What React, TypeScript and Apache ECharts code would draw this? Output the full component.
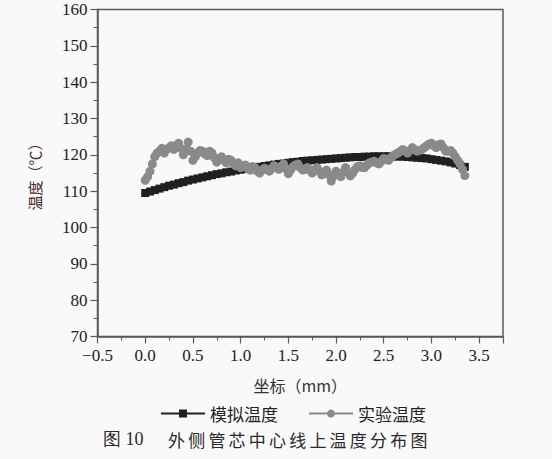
import React, { useEffect, useRef } from "react";
import * as echarts from "echarts";

const simX = [0, 0.05, 0.1, 0.15, 0.2, 0.25, 0.3, 0.35, 0.4, 0.45, 0.5, 0.55, 0.6, 0.65, 0.7, 0.75, 0.8, 0.85, 0.9, 0.95, 1.0, 1.05, 1.1, 1.15, 1.2, 1.25, 1.3, 1.35, 1.4, 1.45, 1.5, 1.55, 1.6, 1.65, 1.7, 1.75, 1.8, 1.85, 1.9, 1.95, 2.0, 2.05, 2.1, 2.15, 2.2, 2.25, 2.3, 2.35, 2.4, 2.45, 2.5, 2.55, 2.6, 2.65, 2.7, 2.75, 2.8, 2.85, 2.9, 2.95, 3.0, 3.05, 3.1, 3.15, 3.2, 3.25, 3.3, 3.35];
const simY = [109.5, 109.9, 110.3, 110.7, 111.1, 111.5, 111.8, 112.2, 112.5, 112.9, 113.2, 113.5, 113.8, 114.1, 114.4, 114.7, 114.9, 115.2, 115.4, 115.7, 115.9, 116.1, 116.3, 116.5, 116.7, 116.9, 117.1, 117.3, 117.5, 117.6, 117.8, 118.0, 118.1, 118.3, 118.4, 118.5, 118.6, 118.7, 118.8, 118.9, 119.0, 119.1, 119.2, 119.3, 119.4, 119.4, 119.5, 119.5, 119.6, 119.6, 119.6, 119.6, 119.6, 119.5, 119.5, 119.4, 119.3, 119.2, 119.1, 119.0, 118.8, 118.6, 118.4, 118.2, 117.9, 117.6, 117.2, 116.7];

const expX = [0, 0.025, 0.05, 0.075, 0.1, 0.125, 0.15, 0.175, 0.2, 0.225, 0.25, 0.275, 0.3, 0.325, 0.35, 0.375, 0.4, 0.425, 0.45, 0.475, 0.5, 0.525, 0.55, 0.575, 0.6, 0.625, 0.65, 0.675, 0.7, 0.725, 0.75, 0.775, 0.8, 0.825, 0.85, 0.875, 0.9, 0.925, 0.95, 0.975, 1.0, 1.025, 1.05, 1.075, 1.1, 1.125, 1.15, 1.175, 1.2, 1.225, 1.25, 1.275, 1.3, 1.325, 1.35, 1.375, 1.4, 1.425, 1.45, 1.475, 1.5, 1.525, 1.55, 1.575, 1.6, 1.625, 1.65, 1.675, 1.7, 1.725, 1.75, 1.775, 1.8, 1.825, 1.85, 1.875, 1.9, 1.925, 1.95, 1.975, 2.0, 2.025, 2.05, 2.075, 2.1, 2.125, 2.15, 2.175, 2.2, 2.225, 2.25, 2.275, 2.3, 2.325, 2.35, 2.375, 2.4, 2.425, 2.45, 2.475, 2.5, 2.525, 2.55, 2.575, 2.6, 2.625, 2.65, 2.675, 2.7, 2.725, 2.75, 2.775, 2.8, 2.825, 2.85, 2.875, 2.9, 2.925, 2.95, 2.975, 3.0, 3.025, 3.05, 3.075, 3.1, 3.125, 3.15, 3.175, 3.2, 3.225, 3.25, 3.275, 3.3, 3.325, 3.35];
const expY = [113.0, 114.0, 115.5, 117.5, 119.5, 120.5, 121.0, 121.8, 120.5, 121.5, 122.0, 122.5, 121.5, 122.5, 123.2, 121.8, 120.0, 121.5, 123.5, 121.0, 118.5, 119.5, 120.5, 121.2, 121.0, 120.2, 119.8, 121.0, 120.5, 119.2, 118.0, 119.0, 119.5, 118.5, 117.8, 118.8, 118.5, 117.5, 117.0, 117.8, 116.5, 116.8, 117.2, 116.2, 115.8, 116.8, 116.5, 115.5, 115.0, 115.8, 116.3, 116.0, 115.5, 116.2, 117.0, 116.5, 116.0, 116.8, 117.5, 116.2, 114.8, 115.8, 116.8, 117.2, 117.5, 116.5, 115.8, 116.0, 116.5, 115.8, 115.0, 115.8, 116.5, 115.5, 114.5, 115.2, 115.8, 114.5, 112.8, 114.2, 115.5, 114.8, 114.0, 115.2, 116.5, 115.2, 114.2, 115.0, 116.0, 116.8, 117.0, 116.5, 116.5, 117.2, 117.8, 118.0, 118.2, 117.8, 117.5, 118.2, 119.0, 118.8, 118.5, 119.2, 119.8, 120.2, 120.5, 121.0, 121.5, 121.0, 120.5, 121.2, 122.0, 121.5, 121.0, 121.2, 121.5, 122.0, 122.5, 123.0, 123.2, 122.5, 122.0, 122.8, 123.0, 122.0, 121.0, 121.0, 121.2, 120.5, 119.5, 118.5, 117.5, 116.0, 114.3];

const seriesNames = ["模拟温度", "实验温度"];
const xTitle = "坐标（mm）";
const yTitle = "温度（℃）";
const captionHead = "图 10";
const captionBody = "外侧管芯中心线上温度分布图";

const SERIF = "Liberation Serif";
const CJK = "Noto Sans CJK SC";

export default function App() {
  const ref = useRef<HTMLDivElement>(null);
  useEffect(() => {
    if (!ref.current) return;
    const chart = echarts.init(ref.current, null, { renderer: "svg" });
    const captionChars = captionBody.split("").map((ch, i) => ({
      type: "text",
      left: 168 + i * 20.2,
      top: 431,
      style: { text: ch, fill: "#2a2a2a", fontSize: 17, fontFamily: CJK },
    }));
    chart.setOption({
      animation: false,
      backgroundColor: "#f9f9f9",
      textStyle: { fontFamily: SERIF },
      grid: {
        left: 97.5,
        right: 49,
        top: 9.5,
        bottom: 122.5,
        show: true,
        borderColor: "#5a5a5a",
        borderWidth: 1.5,
        backgroundColor: "transparent",
      },
      xAxis: {
        type: "value",
        min: -0.5,
        max: 3.75,
        interval: 0.5,
        splitLine: { show: false },
        axisLine: { show: true, onZero: false, lineStyle: { color: "#5a5a5a", width: 1.5 } },
        axisTick: { show: true, inside: false, length: 7, lineStyle: { color: "#5a5a5a", width: 1.2 } },
        minorTick: { show: true, splitNumber: 2, length: 4, lineStyle: { color: "#5a5a5a", width: 1 } },
        axisLabel: {
          color: "#222",
          fontFamily: SERIF,
          fontSize: 17,
          margin: 10,
          formatter: (v: number) => {
            if (Math.abs(v * 2 - Math.round(v * 2)) > 1e-6) return "";
            if (v > 3.6) return "";
            return v < 0 ? "\u2212" + Math.abs(v).toFixed(1) : v.toFixed(1);
          },
        },
        name: xTitle,
        nameLocation: "middle",
        nameGap: 40,
        nameTextStyle: { color: "#333", fontFamily: CJK, fontSize: 16 },
      },
      yAxis: {
        type: "value",
        min: 70,
        max: 160,
        interval: 10,
        splitLine: { show: false },
        axisLine: { show: true, onZero: false, lineStyle: { color: "#5a5a5a", width: 1.5 } },
        axisTick: { show: true, inside: false, length: 7, lineStyle: { color: "#5a5a5a", width: 1.2 } },
        minorTick: { show: true, splitNumber: 2, length: 4, lineStyle: { color: "#5a5a5a", width: 1 } },
        axisLabel: { color: "#222", fontFamily: SERIF, fontSize: 17, margin: 10 },
        name: yTitle,
        nameLocation: "middle",
        nameGap: 56,
        nameRotate: 90,
        nameTextStyle: { color: "#4a2c2c", fontFamily: CJK, fontSize: 15 },
      },
      legend: {
        left: 155,
        top: 400,
        itemWidth: 44,
        itemHeight: 10,
        itemGap: 30,
        textStyle: { color: "#222", fontFamily: CJK, fontSize: 17 },
        data: seriesNames,
      },
      graphic: [
        {
          type: "text",
          left: 103,
          top: 430,
          style: { text: captionHead, fill: "#2a2a2a", fontSize: 18, fontFamily: SERIF },
        },
        ...captionChars,
      ],
      series: [
        {
          name: seriesNames[0],
          type: "line",
          data: simX.map((x, i) => [x, simY[i]]),
          symbol: "rect",
          symbolSize: 8,
          itemStyle: { color: "#231f20" },
          lineStyle: { color: "#231f20", width: 2 },
          z: 2,
        },
        {
          name: seriesNames[1],
          type: "line",
          data: expX.map((x, i) => [x, expY[i]]),
          symbol: "circle",
          symbolSize: 9,
          itemStyle: { color: "#8a8a8c" },
          lineStyle: { color: "#8a8a8c", width: 2 },
          z: 3,
        },
      ],
    });
    return () => chart.dispose();
  }, []);
  return (
    <div
      ref={ref}
      style={{ position: "fixed", left: 0, top: 0, width: 552, height: 459, background: "#f9f9f9" }}
    />
  );
}
